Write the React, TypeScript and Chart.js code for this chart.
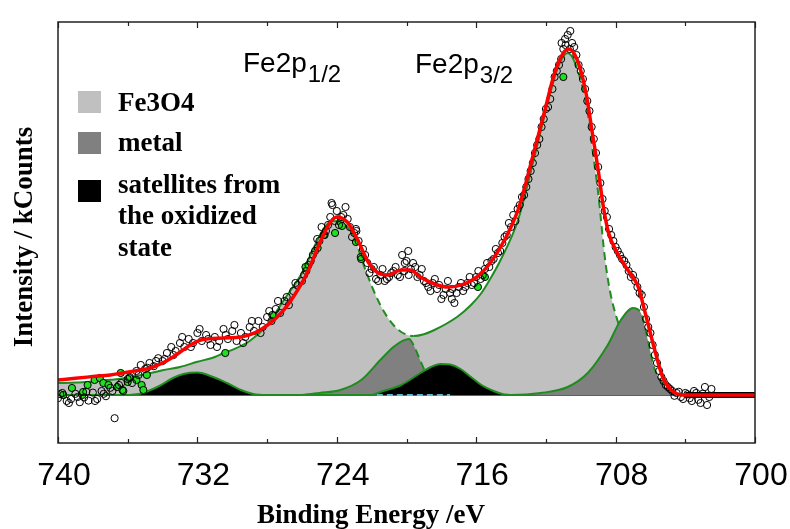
import React, { useEffect, useRef } from "react";
import { Chart, registerables } from "chart.js";

Chart.register(...registerables);

// ---------- data (binding energy in eV, intensity in arbitrary kCounts units) ----------
const measuredEV = [
  740.0, 739.75, 739.5, 739.25, 739.0, 738.75, 738.5, 738.25, 738.0, 737.75, 737.5, 737.25, 737.0, 736.75, 736.5, 736.25,
  736.0, 735.75, 735.5, 735.25, 735.0, 734.75, 734.5, 734.25, 734.0, 733.75, 733.5, 733.25, 733.0, 732.75, 732.5, 732.25,
  732.0, 731.75, 731.5, 731.25, 731.0, 730.75, 730.5, 730.25, 730.0, 729.75, 729.5, 729.25, 729.0, 728.75, 728.5, 728.25,
  728.0, 727.75, 727.5, 727.25, 727.0, 726.75, 726.5, 726.25, 726.0, 725.75, 725.5, 725.25, 725.0, 724.75, 724.5, 724.25,
  724.0, 723.75, 723.5, 723.25, 723.0, 722.75, 722.5, 722.25, 722.0, 721.75, 721.5, 721.25, 721.0, 720.75, 720.5, 720.25,
  720.0, 719.75, 719.5, 719.25, 719.0, 718.75, 718.5, 718.25, 718.0, 717.75, 717.5, 717.25, 717.0, 716.75, 716.5, 716.25,
  716.0, 715.75, 715.5, 715.25, 715.0, 714.75, 714.5, 714.25, 714.0, 713.75, 713.5, 713.25, 713.0, 712.75, 712.5, 712.25,
  712.0, 711.75, 711.5, 711.25, 711.0, 710.75, 710.5, 710.25, 710.0, 709.75, 709.5, 709.25, 709.0, 708.75, 708.5, 708.25,
  708.0, 707.75, 707.5, 707.25, 707.0, 706.75, 706.5, 706.25, 706.0, 705.75, 705.5, 705.25, 705.0, 704.75, 704.5, 704.25,
  704.0, 703.75, 703.5, 703.25, 703.0, 702.75, 702.5,
  724.3, 710.9, 710.6, 711.1, 719.9, 717.4, 720.1, 722.9,
  739.875, 739.375, 738.875, 738.375, 737.875, 737.375, 736.875, 736.375, 735.875, 735.375, 734.875, 734.375,
  733.875, 733.375, 732.875, 732.375, 731.875, 731.375, 730.875, 730.375, 729.875, 729.375, 728.875, 728.375,
  727.875, 727.375, 726.875, 726.375, 725.875, 725.625, 725.375, 725.125, 724.875, 724.625, 724.375, 724.125,
  723.875, 723.625, 723.375, 723.125, 722.875, 722.625, 722.375, 722.125, 721.875, 721.625, 721.375, 721.125,
  720.875, 720.625, 720.375, 720.125, 719.875, 719.625, 719.375, 719.125, 718.875, 718.625, 718.375, 718.125,
  717.875, 717.625, 717.375, 717.125, 716.875, 716.625, 716.375, 716.125, 715.875, 715.625, 715.375, 715.125,
  714.875, 714.625, 714.375, 714.125, 713.875, 713.625, 713.375, 713.125, 712.875, 712.625, 712.375, 712.125,
  711.875, 711.625, 711.375, 711.125, 710.875, 710.625, 710.375, 710.125, 709.875, 709.625, 709.375, 709.125,
  708.875, 708.625, 708.375, 708.125, 707.875, 707.625, 707.375, 707.125, 706.875, 706.625, 706.375, 706.125,
  705.875, 705.625, 705.375, 705.125, 704.875, 704.625, 704.375, 704.125, 703.875, 703.625, 703.375, 703.125,
  702.875, 702.625,
];
const measuredI = [
  -0.8, 0.5, -1.5, -1.0, 0.3, -1.8, -0.6, -1.4, 0.6, -1.0, 1.0, -0.3, 1.8, -5.8, 2.5, 1.0,
  4.0, 3.0, 6.0, 7.5, 6.5, 8.0, 7.2, 9.2, 8.5, 10.5, 12.0, 11.0, 13.0, 12.0, 14.0, 13.0,
  15.5, 13.5, 15.0, 12.5, 14.5, 13.5, 16.5, 14.0, 16.0, 13.5, 15.5, 14.5, 17.0, 16.0, 18.5, 17.0,
  19.5, 18.5, 21.5, 20.5, 23.5, 22.5, 26.0, 27.5, 28.5, 31.0, 33.5, 36.0, 38.5, 40.0, 42.5, 47.5,
  46.0, 44.5, 47.0, 42.0, 40.5, 38.5, 36.5, 33.0, 31.5, 29.0, 30.0, 28.5, 29.5, 31.0, 30.0, 35.0,
  33.5, 31.5, 32.0, 30.0, 28.5, 27.0, 28.0, 26.5, 24.0, 26.5, 25.5, 23.0, 27.0, 26.0, 28.0, 27.5,
  29.5, 29.0, 31.5, 32.0, 34.0, 35.5, 38.0, 40.0, 42.0, 43.5, 47.5, 50.0, 54.0, 58.0, 62.5, 67.0,
  71.5, 74.0, 79.5, 82.5, 86.5, 90.0, 88.0, 85.0, 81.0, 76.5, 71.0, 64.0, 57.0, 49.0, 44.5, 40.0,
  37.0, 35.0, 33.5, 31.0, 30.0, 27.0, 25.0, 19.0, 15.5, 10.0, 6.0, 3.5, 2.0, 1.0, 0.5, -0.5,
  0.5, -0.8, 1.0, -1.2, 0.3, -2.5, 1.5,
  48.0, 89.0, 91.0, 88.0, 36.0, 24.0, 33.0, 41.5,
  0.2, -2.0, -0.5, 0.8, -1.5, 0.3, 1.0, 3.0, 4.5, 5.0, 6.8, 8.5,
  9.0, 10.0, 14.5, 12.0, 16.5, 14.0, 12.0, 15.0, 17.5, 13.0, 18.5, 15.5,
  21.0, 23.5, 24.5, 28.0, 30.0, 32.5, 35.0, 39.0, 42.0, 41.0, 44.5, 43.5,
  42.5, 45.0, 44.0, 39.5, 41.0, 34.5, 35.0, 30.5, 32.0, 28.5, 31.5, 29.0,
  30.5, 32.0, 29.5, 31.0, 30.0, 33.0, 29.5, 31.5, 28.0, 26.0, 29.0, 27.5,
  25.0, 28.5, 26.5, 25.5, 28.0, 27.0, 29.5, 28.0, 31.0, 30.0, 33.0, 33.5,
  36.5, 36.0, 39.5, 43.0, 45.0, 46.5, 49.5, 52.0, 56.0, 60.5, 64.0, 69.0,
  72.0, 76.5, 81.0, 84.0, 87.5, 86.5, 87.0, 82.5, 79.0, 73.5, 67.0, 60.5,
  53.0, 46.0, 41.5, 38.5, 36.0, 34.0, 32.5, 29.5, 28.5, 25.5, 22.0, 17.0,
  12.5, 8.0, 4.5, 2.5, 1.5, -0.2, 0.8, -1.0, 0.2, -1.5, 0.5, -2.0,
  2.0, -0.5,
];

const greenEV = [
  739.7, 739.2, 738.6, 738.56, 738.3, 737.9, 737.6, 737.4, 737.1, 736.6, 736.4, 736.3, 736.0, 735.9, 735.5, 735.2,
  735.1, 734.9, 730.4, 727.7, 725.8, 725.1, 724.7, 724.1, 723.8, 723.7, 722.9, 722.6, 715.9, 715.5, 711.0,
];
const greenI = [
  0.0, 1.75, 0.0, 0.75, 2.5, 3.75, 4.25, 3.0, 2.5, 2.0, 5.5, 1.25, 3.25, 4.25, 3.75, 2.5,
  1.25, 5.0, 10.5, 20.0, 32.0, 36.75, 40.0, 40.5, 43.25, 42.25, 38.25, 34.0, 27.0, 29.5, 79.5,
];

const envelopeEV = [
  740, 739, 738, 737, 736.3, 735.5, 734.7, 734, 733.4, 732.4, 731.8, 730.5, 729.5, 728.4, 727.2, 726.5,
  725.7, 724.9, 724.4, 724.0, 723.4, 722.8, 722.2, 721.7, 721.1, 720.3, 719.8, 719.2, 718.4, 717.6, 716.7, 715.7,
  714.6, 713.6, 712.7, 712.1, 711.5, 711.0, 710.7, 710.2, 709.7, 709.3, 709.0, 708.7, 708.4, 707.9, 707.3, 706.7,
  706.3, 705.8, 705.3, 704.8, 704.1, 700,
];
const envelopeI = [
  3.75, 4.2, 4.6, 5.0, 5.5, 6.1, 6.75, 8.0, 9.5, 12.5, 13.75, 14.25, 14.5, 16.25, 20.5, 24.5,
  30.5, 38.75, 43.0, 44.5, 43.25, 38.75, 33.25, 30.75, 30.0, 31.25, 31.25, 29.5, 27.75, 27.0, 27.75, 30.5,
  37.0, 46.25, 60.5, 70.5, 80.5, 85.5, 86.5, 83.75, 75.5, 64.5, 56.25, 47.0, 40.5, 35.5, 31.25, 27.0,
  20.5, 12.0, 4.5, 1.25, 0.0, 0.0,
];

const fe3o4EV = [
  740, 739, 738, 737, 736, 735, 734, 733, 732, 731, 730.5, 730, 729, 728, 727, 726,
  725.3, 724.8, 724.3, 723.8, 723.4, 723.0, 722.5, 721.9, 721.5, 721.1, 720.7, 720.3, 719.6, 719.0, 718.4, 717.1,
  716.3, 715.7, 715.2, 714.6, 713.6, 712.7, 711.9, 711.3, 710.75, 710.4, 709.9, 709.6, 709.3, 709.0, 708.6, 708.3,
  707.9, 707.5, 706.95, 706.4, 705.8, 705.0, 704.5,
];
const fe3o4I = [
  3.0, 3.1, 3.4, 3.8, 4.3, 5.2, 6.2, 7.0, 8.3, 9.5, 10.5, 11.3, 13.5, 17.5, 24.0, 30.5,
  37.0, 41.25, 43.5, 43.25, 42.0, 39.5, 33.0, 26.25, 22.5, 19.5, 17.25, 15.75, 14.75, 15.2, 16.25, 19.5,
  22.5, 25.5, 29.0, 33.75, 43.75, 58.75, 73.0, 82.0, 85.5, 83.75, 77.0, 70.5, 60.5, 50.5, 33.75, 25.5,
  18.75, 13.75, 8.0, 3.75, 1.75, 0.5, 0.0,
];

const metalEV = [
  726, 725, 723.8, 722.6, 721.5, 720.75, 720.2, 719.85, 719.6, 719.2, 718.8, 718.2, 717.6, 717,
  714, 712.3, 710.75, 709.6, 708.45, 707.7, 707.0, 706.55, 706.15, 705.8, 705.3, 704.8, 704.3,
];
const metalI = [
  0, 0.5, 1.25, 3.75, 8.75, 12.0, 13.6, 14.0, 12.5, 8.5, 4.8, 1.75, 0.5, 0,
  0, 0.5, 2.0, 5.5, 12.5, 18.75, 21.75, 20.5, 13.75, 7.0, 3.0, 0.75, 0,
];

const satelliteEV = [
  736, 735.3, 734.3, 733.4, 732.8, 732, 731.1, 730.3, 729.5, 728.8, 728,
  722, 721.5, 720.3, 719.2, 718.6, 718.05, 717.5, 716.9, 716.3, 715.7, 715, 714.5, 714,
];
const satelliteI = [
  0, 0.3, 2.0, 4.25, 5.25, 5.6, 4.5, 3.0, 1.25, 0.25, 0,
  0, 0.75, 2.5, 5.5, 7.0, 7.75, 7.6, 6.5, 4.5, 2.5, 1.0, 0.25, 0,
];

const baselineEV = [740, 704.5];
const baselineI = [0, 0];
const rightBaseEV = [704.0, 700];
const rightBaseI = [0, 0];
const cyanEV = [721.7, 717.5];
const cyanI = [0, 0];

const tickLabels = [740, 732, 724, 716, 708, 700];
const minorTickValues = [736, 728, 720, 712, 704];

const legendItems = ["Fe3O4", "metal", "satellites from"];
const legendExtraLines = ["the oxidized", "state"];
const legendColors = ["#c0c0c0", "#808080", "#000000"];

const GREEN = "#1e8c1e";

const pts = (xs: number[], ys: number[]) => xs.map((x, i) => ({ x, y: ys[i] }));

const decorPlugin = {
  id: "decor",
  afterDraw(chart: any) {
    const { ctx, chartArea: a, scales } = chart;
    const x = scales.x;
    ctx.save();
    // frame
    ctx.strokeStyle = "#222";
    ctx.lineWidth = 1.5;
    ctx.strokeRect(a.left, a.top, a.right - a.left, a.bottom - a.top);
    // ticks (inward, bottom and top)
    ctx.lineWidth = 1.2;
    const drawTick = (v: number, len: number) => {
      const px = Math.round(x.getPixelForValue(v)) + 0.5;
      ctx.beginPath();
      ctx.moveTo(px, a.bottom);
      ctx.lineTo(px, a.bottom - len);
      ctx.moveTo(px, a.top);
      ctx.lineTo(px, a.top + len);
      ctx.stroke();
    };
    tickLabels.forEach((v) => drawTick(v, 6));
    minorTickValues.forEach((v) => drawTick(v, 4));

    // axis titles
    ctx.fillStyle = "#000";
    ctx.font = "bold 27px 'Liberation Serif', 'Times New Roman', serif";
    ctx.textAlign = "center";
    ctx.textBaseline = "alphabetic";
    ctx.fillText("Binding Energy /eV", 371, 523);
    ctx.save();
    ctx.translate(25, 237);
    ctx.rotate(-Math.PI / 2);
    ctx.textBaseline = "middle";
    ctx.fillText("Intensity / kCounts", 0, 0);
    ctx.restore();

    // peak labels
    ctx.textAlign = "left";
    ctx.textBaseline = "alphabetic";
    const peak = (x0: number, y0: number, sub: string) => {
      ctx.font = "28px 'Liberation Sans', Arial, sans-serif";
      ctx.fillText("Fe2p", x0, y0);
      const w = ctx.measureText("Fe2p").width;
      ctx.font = "24px 'Liberation Sans', Arial, sans-serif";
      ctx.fillText(sub, x0 + w + 1, y0 + 10);
    };
    peak(243, 72, "1/2");
    peak(415, 73, "3/2");

    // legend
    const squareY = [91, 132, 180];
    legendItems.forEach((t, i) => {
      ctx.fillStyle = legendColors[i];
      ctx.fillRect(78, squareY[i], 23, 22);
    });
    ctx.fillStyle = "#000";
    ctx.font = "bold 27px 'Liberation Serif', 'Times New Roman', serif";
    const textY = [111, 151, 193];
    legendItems.forEach((t, i) => ctx.fillText(t, 118, textY[i]));
    ctx.fillText(legendExtraLines[0], 118, 224);
    ctx.fillText(legendExtraLines[1], 118, 256);
    ctx.restore();
  },
};

export default function App() {
  const ref = useRef<HTMLCanvasElement | null>(null);

  useEffect(() => {
    document.body.style.margin = "0";
    const canvas = ref.current;
    if (!canvas) return;

    const fe3o4Dashed = (v: number) => (v <= 723.0 && v >= 719.6) || v <= 710.5;
    const metalDashed = (v: number) => (v <= 719.85 && v >= 717) || (v <= 707.0 && v >= 704);

    const fillSet = (label: string, xs: number[], ys: number[], color: string, order: number) => ({
      label,
      data: pts(xs, ys),
      borderWidth: 0,
      borderColor: "rgba(0,0,0,0)",
      pointRadius: 0,
      cubicInterpolationMode: "monotone",
      backgroundColor: color,
      fill: "origin",
      order,
    });
    const outlineSet = (label: string, xs: number[], ys: number[], dashed: (v: number) => boolean, order: number) => ({
      label,
      data: pts(xs, ys),
      borderColor: GREEN,
      borderWidth: 2,
      pointRadius: 0,
      cubicInterpolationMode: "monotone",
      fill: false,
      segment: {
        borderDash: (c: any) => (dashed(c.p0.parsed.x) && dashed(c.p1.parsed.x) ? [8, 5] : undefined),
      },
      order,
    });

    const chart = new Chart(canvas, {
      type: "line",
      data: {
        datasets: [
          {
            label: "envelope",
            data: pts(envelopeEV, envelopeI),
            borderColor: "#ff0000",
            borderWidth: 3.5,
            pointRadius: 0,
            cubicInterpolationMode: "monotone",
            fill: false,
            order: 1,
          },
          {
            label: "right baseline",
            data: pts(rightBaseEV, rightBaseI),
            borderColor: "#000000",
            borderWidth: 6,
            pointRadius: 0,
            fill: false,
            order: 2,
          },
          {
            label: "measured",
            data: pts(measuredEV, measuredI),
            showLine: false,
            pointRadius: 3.6,
            pointBorderWidth: 1,
            pointBorderColor: "#000",
            pointBackgroundColor: "rgba(255,255,255,0)",
            order: 3,
          },
          {
            label: "green",
            data: pts(greenEV, greenI),
            showLine: false,
            pointRadius: 3.6,
            pointBorderWidth: 1,
            pointBorderColor: "#000",
            pointBackgroundColor: "#1ee01e",
            order: 4,
          },
          {
            label: "cyan base",
            data: pts(cyanEV, cyanI),
            borderColor: "#5ab8cc",
            borderWidth: 2,
            borderDash: [6, 4],
            pointRadius: 0,
            fill: false,
            order: 5,
          },
          {
            label: "satellites",
            data: pts(satelliteEV, satelliteI),
            borderColor: GREEN,
            borderWidth: 2,
            pointRadius: 0,
            cubicInterpolationMode: "monotone",
            backgroundColor: "#000000",
            fill: "origin",
            order: 6,
          },
          outlineSet("metal outline", metalEV, metalI, metalDashed, 7),
          fillSet("metal", metalEV, metalI, "#808080", 8),
          {
            label: "baseline",
            data: pts(baselineEV, baselineI),
            borderColor: GREEN,
            borderWidth: 2,
            pointRadius: 0,
            fill: false,
            order: 9,
          },
          outlineSet("Fe3O4 outline", fe3o4EV, fe3o4I, fe3o4Dashed, 10),
          fillSet("Fe3O4", fe3o4EV, fe3o4I, "#c0c0c0", 11),
        ],
      },
      options: {
        responsive: false,
        animation: false,
        events: [],
        layout: { padding: { top: 22, right: 35, left: 0, bottom: 0 } },
        plugins: { legend: { display: false }, tooltip: { enabled: false } },
        scales: {
          x: {
            type: "linear",
            reverse: true,
            min: 700,
            max: 740,
            grid: { display: false, drawTicks: false },
            border: { display: false },
            ticks: {
              stepSize: 8,
              color: "#000",
              padding: 14,
              labelOffset: 6,
              maxRotation: 0,
              font: { family: "'Liberation Sans', Arial, sans-serif", size: 32 },
            },
            afterFit: (s: any) => {
              s.height = 86;
              s.paddingLeft = 0;
              s.paddingRight = 0;
            },
          },
          y: {
            type: "linear",
            min: -12,
            max: 93.25,
            grid: { display: false, drawTicks: false },
            border: { display: false },
            ticks: { display: false },
            afterFit: (s: any) => {
              s.width = 58;
              s.paddingTop = 0;
              s.paddingBottom = 0;
            },
          },
        },
      },
      plugins: [decorPlugin],
    } as any);

    return () => chart.destroy();
  }, []);

  return (
    <div style={{ position: "fixed", left: 0, top: 0, width: 790, height: 529, background: "#fff" }}>
      <canvas ref={ref} width={790} height={529} />
    </div>
  );
}
